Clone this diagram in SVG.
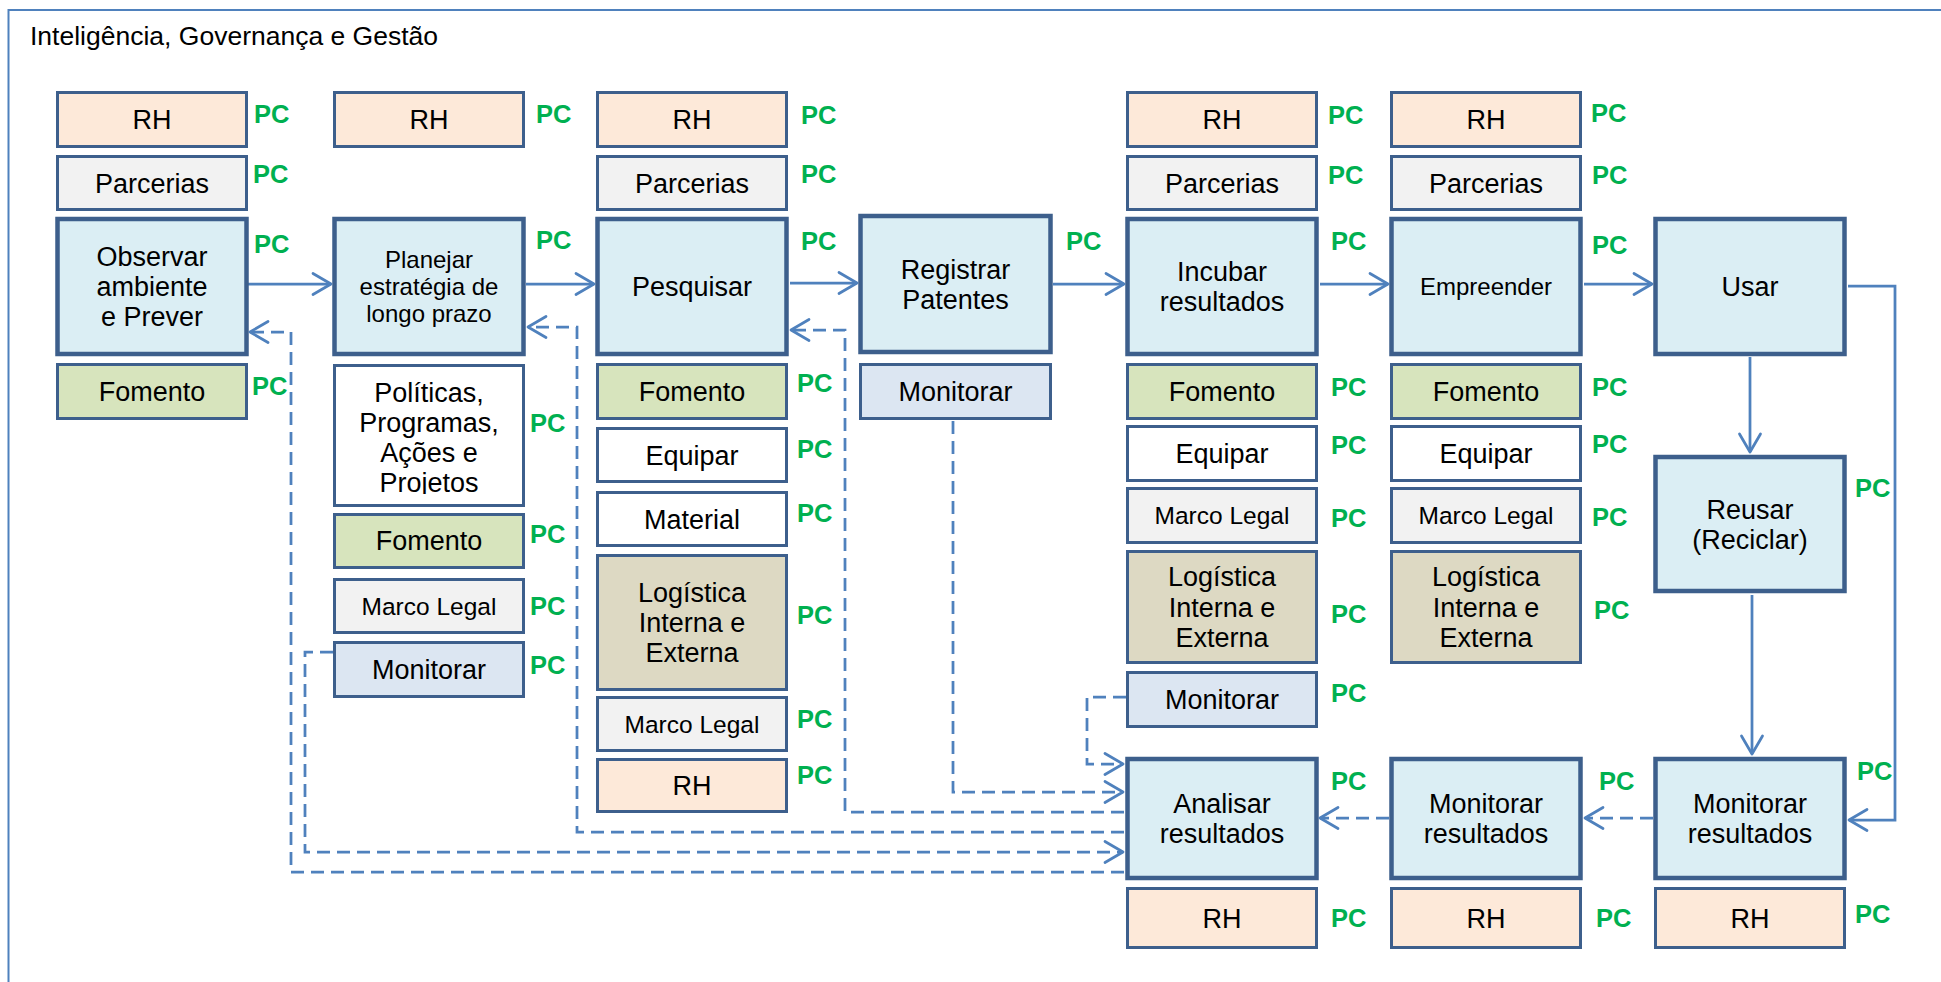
<svg xmlns="http://www.w3.org/2000/svg" width="1941" height="982" viewBox="0 0 1941 982">
  <defs>
    <style>
      .b{stroke:#3D5F8C;stroke-width:3}
      .m{stroke-width:4.5}
      .rh{fill:#FDE9D9}
      .pa{fill:#F2F2F2}
      .pr{fill:#DBEEF4}
      .fo{fill:#D7E4BD}
      .mo{fill:#DCE6F2}
      .lo{fill:#DDD9C3}
      .wh{fill:#FFFFFF}
      text{font-family:"Liberation Sans",Arial,sans-serif}
      .t{font-size:27px;text-anchor:middle;fill:#000}
      .s{font-size:24px}
      .ml{font-size:24.5px}
      .pc{font-size:25.5px;font-weight:bold;fill:#00B050}
      .c{fill:none;stroke:#4F81BD;stroke-width:2.75}
      .d{stroke-dasharray:13 7}
      .frame{fill:none;stroke:#4F81BD;stroke-width:2}
    </style>
    <marker id="ah" markerUnits="userSpaceOnUse" markerWidth="24" markerHeight="26" viewBox="0 0 24 26" refX="21" refY="13" orient="auto">
      <path d="M3,2.5 L21,13 L3,23.5" fill="none" stroke="#4F81BD" stroke-width="2.75" stroke-linecap="round" stroke-linejoin="round"/>
    </marker>
    <clipPath id="polClip"><rect x="334" y="365" width="190" height="129"/></clipPath>
  </defs>

  <rect width="1941" height="982" fill="#FFFFFF"/>
  <!-- outer frame (right and bottom edges run off the canvas) -->
  <rect class="frame" x="8.5" y="10" width="1960" height="1000"/>
  <text x="30" y="45" style="font-size:26.5px;fill:#000">Inteligência, Governança e Gestão</text>

  <!-- connectors -->
  <g id="connectors">
    <path class="c" d="M248,284 H331" marker-end="url(#ah)"/>
    <path class="c" d="M526,284 H594" marker-end="url(#ah)"/>
    <path class="c" d="M790,283 H857" marker-end="url(#ah)"/>
    <path class="c" d="M1053,284 H1124" marker-end="url(#ah)"/>
    <path class="c" d="M1320,284 H1388" marker-end="url(#ah)"/>
    <path class="c" d="M1584,284 H1652" marker-end="url(#ah)"/>
    <path class="c" d="M1750,357 V452" marker-end="url(#ah)"/>
    <path class="c" d="M1752,595 V754" marker-end="url(#ah)"/>
    <path class="c" d="M1848,286 H1895 V820 H1849" marker-end="url(#ah)"/>

    <path class="c d" d="M1653,818 H1585" marker-end="url(#ah)"/>
    <path class="c d" d="M1389,818 H1320" marker-end="url(#ah)"/>
    <path class="c d" d="M1124,872 H291 V332 H250" marker-end="url(#ah)"/>
    <path class="c d" d="M333,652 H305 V852 H1123" marker-end="url(#ah)"/>
    <path class="c d" d="M1124,832 H577 V327 H528" marker-end="url(#ah)"/>
    <path class="c d" d="M1124,812 H845 V330 H791" marker-end="url(#ah)"/>
    <path class="c d" d="M953,421 V792 H1123" marker-end="url(#ah)"/>
    <path class="c d" d="M1126,697 H1087 V764 H1123" marker-end="url(#ah)"/>
  </g>

  <!-- column 1 -->
  <g id="c1-rh"><rect class="b rh" x="57.5" y="92.5" width="189" height="54"/><text class="t" x="152" y="129">RH</text><text class="pc" x="254" y="123">PC</text></g>
  <g id="c1-parcerias"><rect class="b pa" x="57.5" y="156.5" width="189" height="53"/><text class="t" x="152" y="192.5">Parcerias</text><text class="pc" x="253" y="183">PC</text></g>
  <g id="c1-observar"><rect class="b m pr" x="57.5" y="219" width="189" height="135"/><text class="t" x="152" y="266">Observar</text><text class="t" x="152" y="296">ambiente</text><text class="t" x="152" y="326">e Prever</text><text class="pc" x="254" y="253">PC</text></g>
  <g id="c1-fomento"><rect class="b fo" x="57.5" y="364.5" width="189" height="54"/><text class="t" x="152" y="401">Fomento</text><text class="pc" x="252" y="395">PC</text></g>

  <!-- column 2 -->
  <g id="c2-rh"><rect class="b rh" x="334.5" y="92.5" width="189" height="54"/><text class="t" x="429" y="129">RH</text><text class="pc" x="536" y="123">PC</text></g>
  <g id="c2-planejar"><rect class="b m pr" x="334.5" y="219" width="189" height="135"/><text class="t s" x="429" y="268">Planejar</text><text class="t s" x="429" y="295">estratégia de</text><text class="t s" x="429" y="322">longo prazo</text><text class="pc" x="536" y="249">PC</text></g>
  <g id="c2-politicas"><rect class="b wh" x="334.5" y="365.5" width="189" height="140"/><g clip-path="url(#polClip)"><text class="t" x="429" y="402">Políticas,</text><text class="t" x="429" y="432">Programas,</text><text class="t" x="429" y="462">Ações e</text><text class="t" x="429" y="492">Projetos</text></g><text class="pc" x="530" y="432">PC</text></g>
  <g id="c2-fomento"><rect class="b fo" x="334.5" y="514.5" width="189" height="53"/><text class="t" x="429" y="550">Fomento</text><text class="pc" x="530" y="543">PC</text></g>
  <g id="c2-marco"><rect class="b pa" x="334.5" y="579.5" width="189" height="53"/><text class="t ml" x="429" y="614.5">Marco Legal</text><text class="pc" x="530" y="615">PC</text></g>
  <g id="c2-monitorar"><rect class="b mo" x="334.5" y="642.5" width="189" height="54"/><text class="t" x="429" y="679">Monitorar</text><text class="pc" x="530" y="674">PC</text></g>

  <!-- column 3 -->
  <g id="c3-rh"><rect class="b rh" x="597.5" y="92.5" width="189" height="54"/><text class="t" x="692" y="129">RH</text><text class="pc" x="801" y="124">PC</text></g>
  <g id="c3-parcerias"><rect class="b pa" x="597.5" y="156.5" width="189" height="53"/><text class="t" x="692" y="192.5">Parcerias</text><text class="pc" x="801" y="183">PC</text></g>
  <g id="c3-pesquisar"><rect class="b m pr" x="597.5" y="219" width="189" height="135"/><text class="t" x="692" y="296">Pesquisar</text><text class="pc" x="801" y="250">PC</text></g>
  <g id="c3-fomento"><rect class="b fo" x="597.5" y="364.5" width="189" height="54"/><text class="t" x="692" y="401">Fomento</text><text class="pc" x="797" y="392">PC</text></g>
  <g id="c3-equipar"><rect class="b wh" x="597.5" y="428.5" width="189" height="53"/><text class="t" x="692" y="464.5">Equipar</text><text class="pc" x="797" y="458">PC</text></g>
  <g id="c3-material"><rect class="b wh" x="597.5" y="492.5" width="189" height="53"/><text class="t" x="692" y="528.5">Material</text><text class="pc" x="797" y="522">PC</text></g>
  <g id="c3-logistica"><rect class="b lo" x="597.5" y="555.5" width="189" height="134"/><text class="t" x="692" y="602">Logística</text><text class="t" x="692" y="632">Interna e</text><text class="t" x="692" y="662">Externa</text><text class="pc" x="797" y="624">PC</text></g>
  <g id="c3-marco"><rect class="b pa" x="597.5" y="697.5" width="189" height="53"/><text class="t ml" x="692" y="732.5">Marco Legal</text><text class="pc" x="797" y="728">PC</text></g>
  <g id="c3-rh2"><rect class="b rh" x="597.5" y="759.5" width="189" height="52"/><text class="t" x="692" y="795">RH</text><text class="pc" x="797" y="784">PC</text></g>

  <!-- column 4 -->
  <g id="c4-registrar"><rect class="b m pr" x="860.5" y="216" width="190" height="136"/><text class="t" x="955.5" y="278.5">Registrar</text><text class="t" x="955.5" y="308.5">Patentes</text><text class="pc" x="1066" y="250">PC</text></g>
  <g id="c4-monitorar"><rect class="b mo" x="860.5" y="364.5" width="190" height="54"/><text class="t" x="955.5" y="401">Monitorar</text></g>

  <!-- column 5 -->
  <g id="c5-rh"><rect class="b rh" x="1127.5" y="92.5" width="189" height="54"/><text class="t" x="1222" y="129">RH</text><text class="pc" x="1328" y="124">PC</text></g>
  <g id="c5-parcerias"><rect class="b pa" x="1127.5" y="156.5" width="189" height="53"/><text class="t" x="1222" y="192.5">Parcerias</text><text class="pc" x="1328" y="184">PC</text></g>
  <g id="c5-incubar"><rect class="b m pr" x="1127.5" y="219" width="189" height="135"/><text class="t" x="1222" y="280.5">Incubar</text><text class="t" x="1222" y="310.5">resultados</text><text class="pc" x="1331" y="250">PC</text></g>
  <g id="c5-fomento"><rect class="b fo" x="1127.5" y="364.5" width="189" height="54"/><text class="t" x="1222" y="401">Fomento</text><text class="pc" x="1331" y="396">PC</text></g>
  <g id="c5-equipar"><rect class="b wh" x="1127.5" y="426.5" width="189" height="54"/><text class="t" x="1222" y="463">Equipar</text><text class="pc" x="1331" y="454">PC</text></g>
  <g id="c5-marco"><rect class="b pa" x="1127.5" y="488.5" width="189" height="54"/><text class="t ml" x="1222" y="524">Marco Legal</text><text class="pc" x="1331" y="527">PC</text></g>
  <g id="c5-logistica"><rect class="b lo" x="1127.5" y="551.5" width="189" height="111"/><text class="t" x="1222" y="586">Logística</text><text class="t" x="1222" y="616.5">Interna e</text><text class="t" x="1222" y="647">Externa</text><text class="pc" x="1331" y="623">PC</text></g>
  <g id="c5-monitorar"><rect class="b mo" x="1127.5" y="672.5" width="189" height="54"/><text class="t" x="1222" y="709">Monitorar</text><text class="pc" x="1331" y="702">PC</text></g>
  <g id="c5-analisar"><rect class="b m pr" x="1127.5" y="759" width="189" height="119"/><text class="t" x="1222" y="813">Analisar</text><text class="t" x="1222" y="843">resultados</text><text class="pc" x="1331" y="790">PC</text></g>
  <g id="c5-rh2"><rect class="b rh" x="1127.5" y="888.5" width="189" height="59"/><text class="t" x="1222" y="927.5">RH</text><text class="pc" x="1331" y="927">PC</text></g>

  <!-- column 6 -->
  <g id="c6-rh"><rect class="b rh" x="1391.5" y="92.5" width="189" height="54"/><text class="t" x="1486" y="129">RH</text><text class="pc" x="1591" y="122">PC</text></g>
  <g id="c6-parcerias"><rect class="b pa" x="1391.5" y="156.5" width="189" height="53"/><text class="t" x="1486" y="192.5">Parcerias</text><text class="pc" x="1592" y="184">PC</text></g>
  <g id="c6-empreender"><rect class="b m pr" x="1391.5" y="219" width="189" height="135"/><text class="t s" x="1486" y="294.5">Empreender</text><text class="pc" x="1592" y="254">PC</text></g>
  <g id="c6-fomento"><rect class="b fo" x="1391.5" y="364.5" width="189" height="54"/><text class="t" x="1486" y="401">Fomento</text><text class="pc" x="1592" y="396">PC</text></g>
  <g id="c6-equipar"><rect class="b wh" x="1391.5" y="426.5" width="189" height="54"/><text class="t" x="1486" y="463">Equipar</text><text class="pc" x="1592" y="453">PC</text></g>
  <g id="c6-marco"><rect class="b pa" x="1391.5" y="488.5" width="189" height="54"/><text class="t ml" x="1486" y="524">Marco Legal</text><text class="pc" x="1592" y="526">PC</text></g>
  <g id="c6-logistica"><rect class="b lo" x="1391.5" y="551.5" width="189" height="111"/><text class="t" x="1486" y="586">Logística</text><text class="t" x="1486" y="616.5">Interna e</text><text class="t" x="1486" y="647">Externa</text><text class="pc" x="1594" y="619">PC</text></g>
  <g id="c6-monitorar-resultados"><rect class="b m pr" x="1391.5" y="759" width="189" height="119"/><text class="t" x="1486" y="813">Monitorar</text><text class="t" x="1486" y="843">resultados</text><text class="pc" x="1599" y="790">PC</text></g>
  <g id="c6-rh2"><rect class="b rh" x="1391.5" y="888.5" width="189" height="59"/><text class="t" x="1486" y="927.5">RH</text><text class="pc" x="1596" y="927">PC</text></g>

  <!-- column 7 -->
  <g id="c7-usar"><rect class="b m pr" x="1655.5" y="219" width="189" height="135"/><text class="t" x="1750" y="295.5">Usar</text></g>
  <g id="c7-reusar"><rect class="b m pr" x="1655.5" y="457" width="189" height="134"/><text class="t" x="1750" y="518.5">Reusar</text><text class="t" x="1750" y="548.5">(Reciclar)</text><text class="pc" x="1855" y="497">PC</text></g>
  <g id="c7-monitorar-resultados"><rect class="b m pr" x="1655.5" y="759" width="189" height="119"/><text class="t" x="1750" y="813">Monitorar</text><text class="t" x="1750" y="843">resultados</text><text class="pc" x="1857" y="780">PC</text></g>
  <g id="c7-rh"><rect class="b rh" x="1655.5" y="888.5" width="189" height="59"/><text class="t" x="1750" y="927.5">RH</text><text class="pc" x="1855" y="923">PC</text></g>
</svg>
